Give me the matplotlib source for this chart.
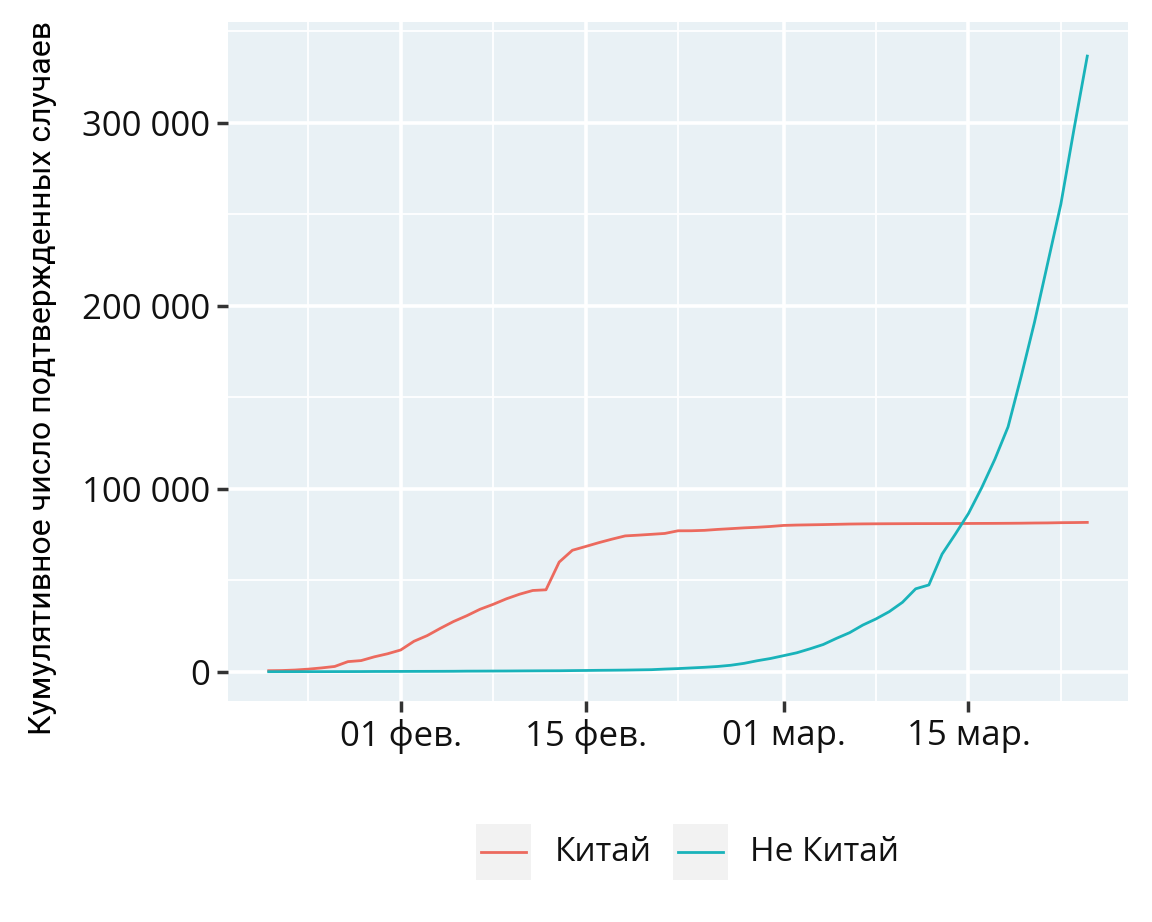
import numpy as np
import pandas as pd
import matplotlib
matplotlib.use("Agg")
import matplotlib.pyplot as plt
from matplotlib.patches import Rectangle
from matplotlib.lines import Line2D

# daily cumulative confirmed cases, 22 Jan - 24 Mar 2020
dates = pd.date_range("2020-01-22", "2020-03-24", freq="D")

china = [548, 643, 920, 1406, 2075, 2877, 5509, 6087, 8141, 9802,
         11891, 16630, 19716, 23707, 27440, 30587, 34110, 36814, 39829, 42354,
         44386, 44759, 59895, 66358, 68413, 70513, 72434, 74211, 74619, 75077,
         75550, 77001, 77022, 77241, 77754, 78166, 78600, 78928, 79356, 79932,
         80136, 80261, 80386, 80537, 80690, 80770, 80823, 80860, 80887, 80921,
         80932, 80945, 80977, 81003, 81033, 81058, 81102, 81156, 81250, 81305,
         81435, 81498, 81591]

not_china = [11, 21, 28, 43, 50, 69, 78, 94, 137, 145,
             165, 183, 198, 218, 247, 313, 337, 370, 395, 440,
             479, 513, 533, 617, 681, 764, 822, 894, 1009, 1118,
             1447, 1710, 2072, 2413, 2862, 3531, 4564, 5999, 7217, 8771,
             10354, 12521, 14866, 18226, 21338, 25500, 28867, 32822, 37924, 45293,
             47411, 64248, 75120, 86446, 100513, 116110, 133813, 161557, 190917, 223223,
             255518, 296737, 336375]

labels = ["Китай", "Не Китай"]
colors = ["#ec6a5e", "#19b3ba"]

xticks = ["2020-02-01", "2020-02-15", "2020-03-01", "2020-03-15"]
xtick_labels = ["01 фев.", "15 фев.", "01 мар.", "15 мар."]
xminor = ["2020-01-25", "2020-02-08", "2020-02-22", "2020-03-08", "2020-03-22"]
yticks = [0, 100000, 200000, 300000]
ytick_labels = ["0", "100 000", "200 000", "300 000"]
yminor = [50000, 150000, 250000, 350000]

plt.rcParams["font.family"] = ["Open Sans", "DejaVu Sans"]

fig = plt.figure(figsize=(11.52, 9.22), dpi=100)
ax = fig.add_axes([228 / 1152, 1 - 701 / 922, 900 / 1152, 679 / 922])
ax.set_facecolor("#e9f1f5")

ax.plot(dates, china, color=colors[0], lw=2, zorder=3)
ax.plot(dates, not_china, color=colors[1], lw=2, zorder=3)

ax.set_xlim(pd.Timestamp("2020-01-18 22:00"), pd.Timestamp("2020-03-27 02:00"))
ax.set_ylim(-16000, 355000)

ax.set_xticks(pd.to_datetime(xticks))
ax.set_xticklabels(xtick_labels)
ax.set_xticks(pd.to_datetime(xminor), minor=True)
ax.set_yticks(yticks)
ax.set_yticklabels(ytick_labels)
ax.set_yticks(yminor, minor=True)

ax.grid(which="major", color="white", lw=2.6)
ax.grid(which="minor", color="white", lw=1.3)
ax.set_axisbelow(True)
for s in ax.spines.values():
    s.set_visible(False)

ax.tick_params(which="major", length=8, width=2.5, color="#333333",
               labelsize=25, labelcolor="#111111", pad=5)
ax.tick_params(which="minor", length=0)

ax.set_ylabel("Кумулятивное число подтвержденных случаев", fontsize=23,
              family=["Roboto", "DejaVu Sans"])
ax.yaxis.set_label_coords(-0.19, 0.476)

# legend drawn below panel, ggplot style
ky = 852
for lab, col, kx, tx in zip(labels, colors, [476, 673], [555, 750]):
    fig.add_artist(Rectangle((kx / 1152, 1 - (ky + 28) / 922), 55 / 1152, 56 / 922,
                             transform=fig.transFigure, facecolor="#f2f2f2",
                             edgecolor="none"))
    fig.add_artist(Line2D([(kx + 5) / 1152, (kx + 50) / 1152],
                          [1 - ky / 922, 1 - ky / 922],
                          transform=fig.transFigure, color=col, lw=2))
    fig.text(tx / 1152, 1 - ky / 922, lab, fontsize=24, va="center", ha="left",
             color="#111111")

fig.savefig("out.png", dpi=100, facecolor="white")
